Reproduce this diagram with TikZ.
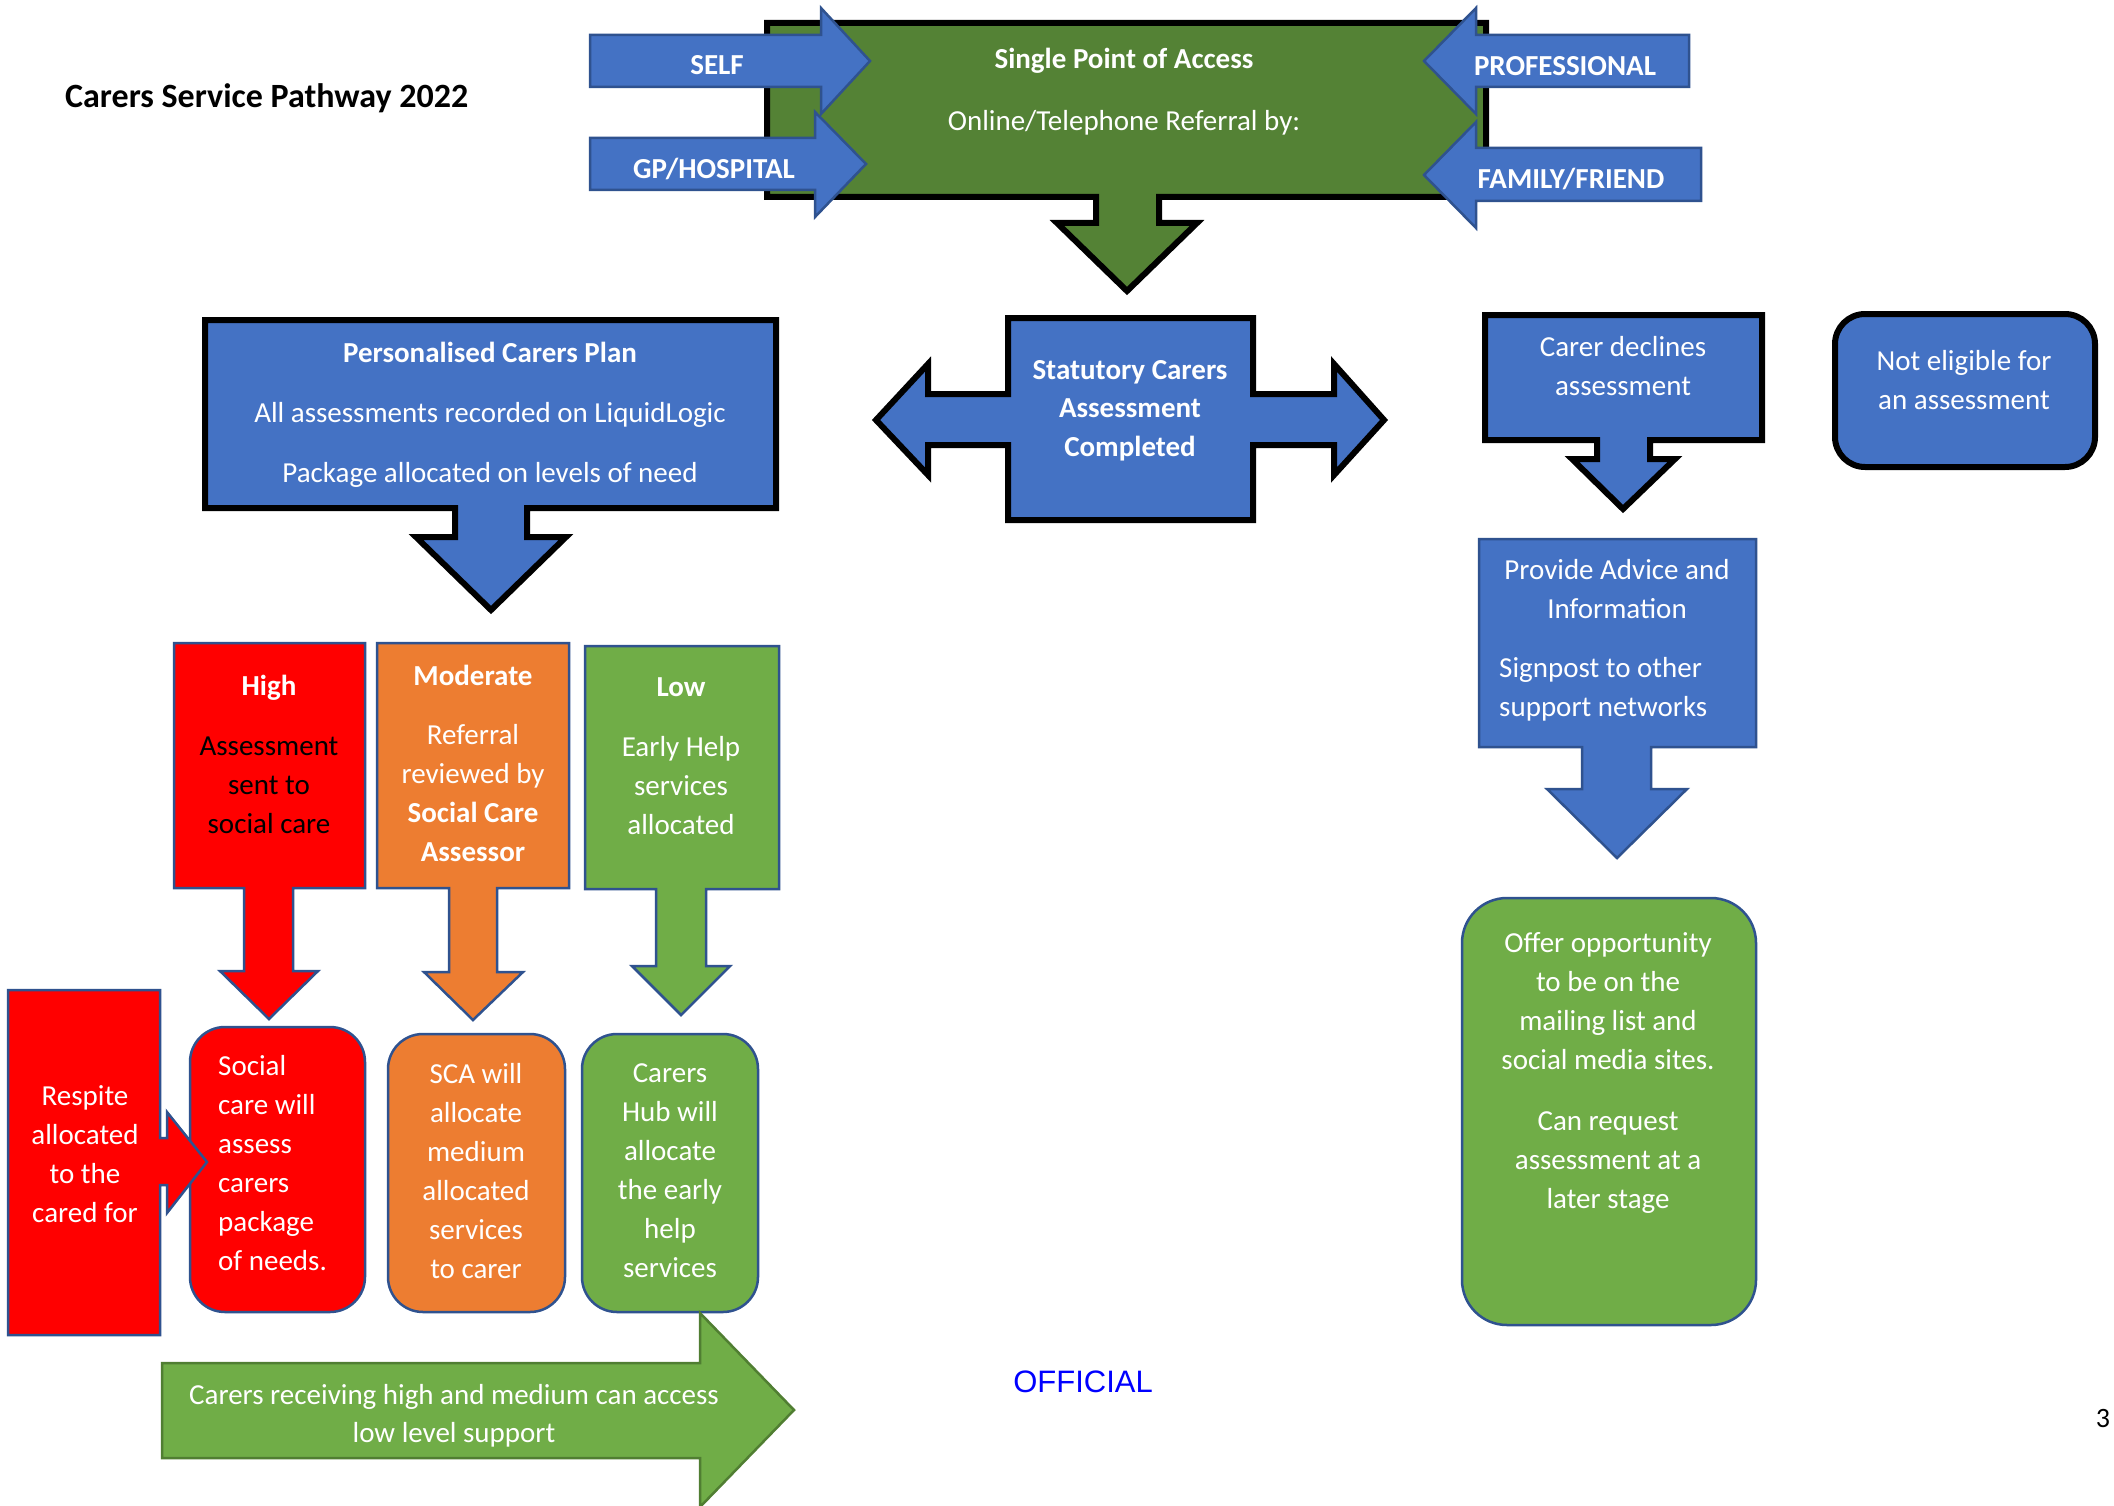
\documentclass[tikz,border=0pt]{standalone}
\usepackage{fontspec}
\setmainfont{Carlito}
\newfontfamily\arialfont{Liberation Sans}
\definecolor{oblue}{HTML}{4472C4}
\definecolor{bordblue}{HTML}{2F528F}
\definecolor{spagreen}{HTML}{548235}
\definecolor{lgreen}{HTML}{70AD47}
\definecolor{dgreen}{HTML}{507E32}
\definecolor{oorange}{HTML}{ED7D31}
\definecolor{ored}{HTML}{FF0000}
\definecolor{offblue}{HTML}{0000FF}
\tikzset{
  blk/.style={draw=black, line width=6pt, line join=miter, miter limit=10},
  bln/.style={draw=bordblue, line width=2.5pt, line join=miter, miter limit=10},
  txt/.style={text=white, font=\fontsize{29}{39}\selectfont, align=center, inner sep=0pt, anchor=north},
  lbl/.style={text=white, font=\fontsize{29}{39}\selectfont\bfseries, inner sep=0pt, anchor=base},
}
\begin{document}
\begin{tikzpicture}[x=1pt,y=-1pt]
\fill[white] (0,0) rectangle (2114,1506);
\useasboundingbox (0,0) rectangle (2114,1506);

% Title
\node[anchor=base west, inner sep=0pt, font=\fontsize{34}{40}\selectfont\bfseries] (title) at (65,108) {Carers Service Pathway 2022};

% Single Point of Access
\filldraw[fill=spagreen, blk] (767,23) -- (1486,23) -- (1486,197) -- (1159,197) -- (1159,223) -- (1197,223) -- (1127,291) -- (1057,223) -- (1096,223) -- (1096,197) -- (767,197) -- cycle;
\node[txt] (spa) at (1124,48) {\textbf{Single Point of Access}\\[23pt]Online/Telephone Referral by:};

% referral arrows
\filldraw[fill=oblue, bln] (590,35) -- (821,35) -- (821,8) -- (870,61) -- (821,114) -- (821,87) -- (590,87) -- cycle;
\node[lbl] (self) at (717,75) {SELF};
\filldraw[fill=oblue, bln] (590,138) -- (815,138) -- (815,112) -- (866,164) -- (815,217) -- (815,190) -- (590,190) -- cycle;
\node[lbl] (gp) at (714,179) {GP/HOSPITAL};
\filldraw[fill=oblue, bln] (1689,35) -- (1476,35) -- (1476,8) -- (1424,61) -- (1476,114) -- (1476,87) -- (1689,87) -- cycle;
\node[lbl] (prof) at (1565,76) {PROFESSIONAL};
\filldraw[fill=oblue, bln] (1701,148) -- (1476,148) -- (1476,122) -- (1424,175) -- (1476,228) -- (1476,201) -- (1701,201) -- cycle;
\node[lbl] (fam) at (1571,189) {FAMILY/FRIEND};

% Personalised Carers Plan
\filldraw[fill=oblue, blk] (205,320) -- (776,320) -- (776,508) -- (527,508) -- (527,537) -- (566,537) -- (491,610) -- (416,537) -- (455,537) -- (455,508) -- (205,508) -- cycle;
\node[txt] (pcp) at (490,342) {\textbf{Personalised Carers Plan}\\[21pt]All assessments recorded on LiquidLogic\\[21pt]Package allocated on levels of need};

% Statutory
\filldraw[fill=oblue, blk] (1008,318) -- (1253,318) -- (1253,394) -- (1334,394) -- (1334,364) -- (1384,420) -- (1334,475) -- (1334,445) -- (1253,445) -- (1253,520) -- (1008,520) -- (1008,445) -- (928,445) -- (928,475) -- (876,420) -- (928,364) -- (928,394) -- (1008,394) -- cycle;
\node[txt, font=\fontsize{29}{38.5}\selectfont\bfseries] (stat) at (1130,360) {Statutory Carers\\Assessment\\Completed};

% Carer declines
\filldraw[fill=oblue, blk] (1485,315) -- (1762,315) -- (1762,440) -- (1650,440) -- (1650,459) -- (1675,459) -- (1623,509) -- (1572,459) -- (1597,459) -- (1597,440) -- (1485,440) -- cycle;
\node[txt] (decl) at (1623,336) {Carer declines\\assessment};

% Not eligible
\filldraw[fill=oblue, blk, rounded corners=30pt] (1835,314) rectangle (2095,467);
\node[txt] (noel) at (1964,350) {Not eligible for\\an assessment};

% Provide advice
\filldraw[fill=oblue, bln] (1479,539) -- (1756,539) -- (1756,747) -- (1651,747) -- (1651,789) -- (1687,789) -- (1617,858) -- (1547,789) -- (1582,789) -- (1582,747) -- (1479,747) -- cycle;
\node[txt] (adv) at (1617,559) {Provide Advice and\\Information};
\node[txt, align=left, anchor=north west] (sign) at (1499,657) {Signpost to other\\support networks};

% Offer opportunity
\filldraw[fill=lgreen, bln, rounded corners=45pt] (1462,898) rectangle (1756,1325);
\node[txt] (offer) at (1608,932) {Offer opportunity\\to be on the\\mailing list and\\social media sites.\\[22pt]Can request\\assessment at a\\later stage};

% High
\filldraw[fill=ored, bln] (174,643) -- (365,643) -- (365,888) -- (293,888) -- (293,971) -- (318,971) -- (269,1019) -- (220,971) -- (244,971) -- (244,888) -- (174,888) -- cycle;
\node[txt] (high) at (269,675) {\textbf{High}\\[21pt]\textcolor{black}{Assessment}\\\textcolor{black}{sent to}\\\textcolor{black}{social care}};

% Moderate
\filldraw[fill=oorange, bln] (377,643) -- (569,643) -- (569,888) -- (497,888) -- (497,972) -- (523,972) -- (473,1020) -- (424,972) -- (449,972) -- (449,888) -- (377,888) -- cycle;
\node[txt] (mod) at (473,665) {\textbf{Moderate}\\[20pt]Referral\\reviewed by\\\textbf{Social Care}\\\textbf{Assessor}};

% Low
\filldraw[fill=lgreen, bln] (585,646) -- (779,646) -- (779,889) -- (706,889) -- (706,966) -- (730,966) -- (681,1015) -- (632,966) -- (656,966) -- (656,889) -- (585,889) -- cycle;
\node[txt] (low) at (681,677) {\textbf{Low}\\[21pt]Early Help\\services\\allocated};

% Lower boxes
\filldraw[fill=ored, bln, rounded corners=35pt] (190,1027) rectangle (365,1312);
\node[txt, align=left, anchor=north west] (soc) at (218,1055) {Social\\care will\\assess\\carers\\package\\of needs.};
\filldraw[fill=oorange, bln, rounded corners=35pt] (388,1034) rectangle (565,1312);
\node[txt] (sca) at (476,1063) {SCA will\\allocate\\medium\\allocated\\services\\to carer};
\filldraw[fill=lgreen, bln, rounded corners=35pt] (582,1034) rectangle (758,1312);
\node[txt] (hub) at (670,1063) {Carers\\Hub will\\allocate\\the early\\help\\services};

% Respite
\filldraw[fill=ored, bln] (8,990) -- (160,990) -- (160,1138) -- (167,1138) -- (167,1112) -- (207,1162) -- (167,1213) -- (167,1185) -- (160,1185) -- (160,1335) -- (8,1335) -- cycle;
\node[txt] (resp) at (85,1085) {Respite\\allocated\\to the\\cared for};

% Bottom arrow
\filldraw[fill=lgreen, draw=dgreen, line width=2.5pt, line join=miter] (162,1363) -- (700,1363) -- (700,1313) -- (794,1410) -- (700,1507) -- (700,1458) -- (162,1458) -- cycle;
\node[txt, font=\fontsize{29}{38}\selectfont] (bott) at (454,1384) {Carers receiving high and medium can access\\low level support};

% Footer
\node[inner sep=0pt, text=offblue, font=\fontsize{31}{36}\arialfont] (official) at (1083,1382) {OFFICIAL};
\node[inner sep=0pt, font=\fontsize{28}{32}\selectfont] (pg) at (2103,1418) {3};
\end{tikzpicture}
\end{document}
